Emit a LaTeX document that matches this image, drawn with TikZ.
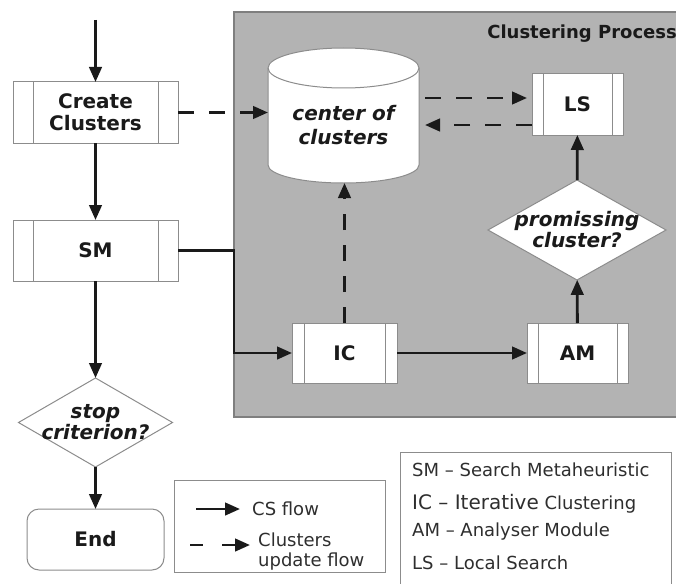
\documentclass[tikz,border=0pt]{standalone}
\usepackage{fontspec}
\setmainfont{DejaVu Sans}
\usetikzlibrary{shapes.geometric, arrows.meta, positioning, backgrounds, calc}

\definecolor{regiongray}{HTML}{B3B3B3}
\definecolor{rimgray}{HTML}{7F7F7F}
\definecolor{boxgray}{HTML}{8C8C8C}
\definecolor{ink}{HTML}{1A1A1A}
\definecolor{legink}{HTML}{2E2E2E}

\newcommand{\boxfont}{\fontsize{20}{22}\selectfont\bfseries}
\newcommand{\askfont}{\fontsize{20}{21}\selectfont\bfseries\itshape}
\newcommand{\legfont}{\fontsize{18}{20}\selectfont}

\tikzset{
  procbox/.style={draw=boxgray, line width=1pt, fill=white, inner sep=0pt, outer sep=0pt,
    text=ink, font=\boxfont, align=center,
    path picture={
      \draw[boxgray, line width=1pt] ([xshift=#1]path picture bounding box.north west) -- ([xshift=#1]path picture bounding box.south west);
      \draw[boxgray, line width=1pt] ([xshift=-#1]path picture bounding box.north east) -- ([xshift=-#1]path picture bounding box.south east);
    }},
  procbox/.default=11pt,
  decision/.style={diamond, draw=boxgray, line width=1pt, fill=white, inner sep=0pt, outer sep=0pt},
  dectext/.style={align=center, font=\askfont, text=ink, inner sep=0pt},
  terminal/.style={draw=boxgray, line width=1pt, fill=white, rounded corners=12pt,
    minimum width=137pt, minimum height=61pt, outer sep=0pt, font=\boxfont, text=ink},
  flow/.style={draw=ink, line width=2.8pt, -{Triangle[length=15pt,width=12.5pt]}},
  updflow/.style={flow, dash pattern=on 16pt off 15pt},
  legtext/.style={anchor=west, inner sep=0pt, font=\legfont, text=legink, align=left}
}

\begin{document}
\begin{tikzpicture}[x=1pt,y=1pt]
\useasboundingbox (0,0) rectangle (676,-583);

% main loop on the left
\coordinate (entry) at (95.5,-20);
\node[procbox=20pt, minimum width=165pt, minimum height=61pt] (create) at (95.5,-112.5) {Create\\Clusters};
\node[procbox=20pt, minimum width=165pt, minimum height=61pt] (sm) at (95.5,-250.5) {SM};
\node[decision, minimum width=154pt, minimum height=89pt,
  label={[dectext]center:{stop\\criterion?}}] (stop) at (95.5,-422.5) {};
\node[terminal] (end) at (95.5,-539.5) {End};

% clustering process
\node[anchor=east, inner sep=0pt, font=\fontsize{18}{20}\selectfont\bfseries, text=ink] (cptitle) at (677,-34) {Clustering Process};
\node[minimum width=151pt, minimum height=115pt, inner sep=0pt, outer sep=0pt,
  align=center, font=\fontsize{20}{24}\selectfont\bfseries\itshape, text=ink] (cc) at (343.5,-125.5) {center of\\clusters};
\node[procbox, minimum width=91pt, minimum height=61pt] (ls) at (577.5,-104.5) {LS};
\node[decision, minimum width=178pt, minimum height=100pt,
  label={[dectext]center:{promissing\\cluster?}}] (prom) at (577,-230) {};
\node[procbox=12pt, minimum width=105pt, minimum height=60pt] (ic) at (344.5,-353) {IC};
\node[procbox, minimum width=101pt, minimum height=60pt] (am) at (577.5,-353) {AM};

\begin{scope}[on background layer]
\fill[regiongray, draw=rimgray, line width=1.2pt] (234,-12) rectangle (690,-417);
\draw[boxgray, line width=1pt, fill=white] (cc.north west) -- ([yshift=18pt]cc.south west)
  arc[start angle=180, end angle=360, x radius=75.5pt, y radius=18pt] -- (cc.north east)
  arc[start angle=0, end angle=180, x radius=75.5pt, y radius=20pt] -- cycle;
\draw[boxgray, line width=1pt] (cc.north west) arc[start angle=180, end angle=360, x radius=75.5pt, y radius=20pt];
\end{scope}

% connectors
\draw[flow] (entry) -- (create);
\draw[flow] (create) -- (sm);
\draw[flow] (sm) -- (stop);
\draw[flow] (stop) -- (end);
\draw[updflow] (create.east) -- (create.east -| cc.west);
\draw[flow] (sm.east) -- ++(56,0) |- (ic.west);
\draw[flow] (ic) -- (am);
\draw[flow] (am) -- (prom);
\draw[flow] (prom) -- (ls);
\draw[updflow] (ic.north) -- (ic.north |- cc.south);
\coordinate (lsin) at ($(ls.west)+(-5,6.5)$);
\coordinate (lsout) at ($(ls.west)+(0,-20.5)$);
\draw[updflow, shorten <=6pt] (cc.east |- lsin) -- (lsin);
\draw[updflow, shorten >=6pt] (lsout) -- (cc.east |- lsout);

% legend of the arrows
\draw[boxgray, line width=1pt] (174,-480) rectangle (385,-572);
\node[legtext] (csflow) at (252,-509) {CS flow};
\node[legtext] (updtext) at (258,-552) {Clusters\\update flow};
\coordinate (solidtail) at (196,-509);
\coordinate (dashtail) at (190,-545);
\draw[flow] (solidtail) -- ([xshift=-12pt]csflow.west);
\draw[flow, dash pattern=on 13pt off 19pt] (dashtail) -- ([xshift=-8pt]updtext.west |- dashtail);

% legend of the names
\draw[boxgray, line width=1pt] (400,-452) rectangle (671,-598);
\node[legtext] (smdef) at (412,-470) {SM -- Search Metaheuristic};
\node[legtext] (icdef) at (412,-504) {{\fontsize{20}{22}\selectfont IC -- Iterative} Clustering};
\node[legtext] (amdef) at (412,-532) {AM -- Analyser Module};
\node[legtext] (lsdef) at (412,-563) {LS -- Local Search};
\end{tikzpicture}
\end{document}
